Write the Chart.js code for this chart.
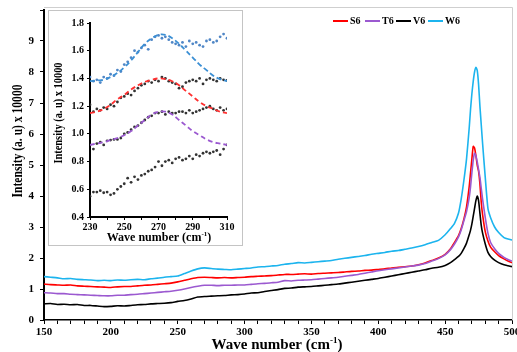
<!DOCTYPE html>
<html>
<head>
<meta charset="utf-8">
<script src="https://cdn.jsdelivr.net/npm/chart.js@4.4.0/dist/chart.umd.min.js"></script>
<style>
  body { margin: 0; background: #fff; }
  #wrap { position: relative; width: 517px; height: 352px; }
  #inset { position: absolute; left: 48px; top: 10px; width: 195px; height: 236px; border: 1px solid #c4c4c4; background: #fff; box-sizing: border-box; }
</style>
</head>
<body>
<div id="wrap">
  <canvas id="main" width="517" height="352"></canvas>
  <div id="inset"><canvas id="small" width="193" height="234"></canvas></div>
</div>
<script>
// main spectra (wave number, intensity x 10000)
const waveNo = [150,155,160,165,170,175,180,185,190,195,200,205,210,215,220,225,230,235,240,245,250,255,260,265,270,275,280,285,290,295,300,305,310,315,320,325,330,335,340,345,350,355,360,365,370,375,380,385,390,395,400,405,410,415,420,425,430,435,440,
  445,450,454,457,460,462,464,466,468,469,470,471,472,473,474,475,476,477,478,480,482,484,487,490,494,497,500];
const s6 = [1.16,1.14,1.13,1.12,1.13,1.10,1.09,1.08,1.07,1.06,1.05,1.07,1.08,1.08,1.10,1.12,1.13,1.15,1.17,1.19,1.23,1.28,1.33,1.37,1.38,1.37,1.36,1.37,1.36,1.37,1.38,1.40,1.41,1.42,1.43,1.45,1.47,1.47,1.48,1.49,1.48,1.50,1.51,1.52,1.53,1.55,1.57,1.58,1.60,1.61,1.63,1.65,1.68,1.70,1.72,1.74,1.78,1.84,1.92,
  2.00,2.12,2.30,2.50,2.72,2.95,3.25,3.65,4.30,4.75,5.20,5.60,5.55,5.30,5.00,4.80,4.40,3.80,3.40,2.85,2.55,2.35,2.20,2.08,1.97,1.90,1.85];
const t6 = [0.88,0.87,0.85,0.85,0.83,0.82,0.81,0.80,0.79,0.78,0.78,0.80,0.80,0.82,0.83,0.85,0.87,0.89,0.91,0.93,0.96,1.00,1.05,1.09,1.12,1.12,1.11,1.12,1.12,1.13,1.13,1.15,1.17,1.18,1.20,1.22,1.27,1.26,1.28,1.29,1.30,1.32,1.34,1.36,1.38,1.41,1.44,1.47,1.51,1.55,1.59,1.62,1.65,1.68,1.71,1.74,1.77,1.82,1.90,
  1.98,2.10,2.27,2.45,2.68,2.90,3.20,3.50,3.95,4.30,4.75,5.15,5.38,5.30,5.10,4.85,4.60,4.25,3.90,3.30,2.80,2.50,2.30,2.15,2.02,1.95,1.90];
const v6 = [0.52,0.53,0.50,0.51,0.49,0.50,0.47,0.47,0.45,0.43,0.44,0.46,0.45,0.47,0.49,0.50,0.52,0.53,0.54,0.56,0.60,0.63,0.68,0.74,0.76,0.77,0.78,0.79,0.81,0.82,0.84,0.87,0.88,0.92,0.95,0.98,1.02,1.03,1.06,1.07,1.08,1.10,1.12,1.14,1.16,1.19,1.22,1.25,1.28,1.31,1.34,1.38,1.42,1.46,1.50,1.54,1.58,1.62,1.67,
  1.70,1.76,1.85,1.95,2.05,2.15,2.30,2.48,2.75,2.90,3.10,3.35,3.60,3.85,4.00,3.85,3.45,3.05,2.80,2.45,2.18,2.05,1.93,1.85,1.78,1.75,1.72];
const w6 = [1.40,1.38,1.36,1.33,1.34,1.31,1.30,1.29,1.27,1.28,1.27,1.29,1.28,1.30,1.31,1.30,1.33,1.35,1.38,1.40,1.42,1.50,1.58,1.65,1.68,1.66,1.64,1.63,1.62,1.64,1.66,1.68,1.71,1.72,1.74,1.76,1.80,1.82,1.85,1.84,1.86,1.88,1.90,1.92,1.96,1.99,2.02,2.05,2.08,2.12,2.15,2.18,2.22,2.24,2.28,2.32,2.37,2.43,2.50,
  2.57,2.75,2.95,3.12,3.45,3.90,4.50,5.20,6.20,6.80,7.30,7.70,8.00,8.15,8.05,7.60,6.90,6.30,5.70,4.60,3.60,3.30,3.00,2.82,2.66,2.61,2.58];

// inset: measured points (every 2 cm-1) and fitted peaks (every 4 cm-1)
const insetX = [230,232,234,236,238,240,242,244,246,248,250,252,254,256,258,260,262,264,266,268,270,272,274,276,278,280,282,284,286,288,290,292,294,296,298,300,302,304,306,308,310];
const w6Pts = [1.41,1.38,1.39,1.37,1.41,1.40,1.43,1.42,1.46,1.45,1.50,1.52,1.55,1.60,1.59,1.62,1.64,1.61,1.68,1.70,1.71,1.69,1.70,1.68,1.66,1.65,1.64,1.66,1.63,1.67,1.65,1.66,1.64,1.63,1.67,1.68,1.66,1.67,1.70,1.72,1.69];
const s6Pts = [1.21,1.16,1.18,1.17,1.19,1.18,1.21,1.20,1.23,1.26,1.27,1.29,1.28,1.31,1.33,1.35,1.36,1.38,1.37,1.39,1.38,1.41,1.40,1.38,1.37,1.36,1.33,1.34,1.37,1.38,1.39,1.38,1.40,1.36,1.39,1.40,1.39,1.38,1.40,1.39,1.385];
const t6Pts = [0.92,0.89,0.93,0.94,0.92,0.95,0.955,0.96,0.96,0.97,1.00,1.01,1.03,1.05,1.06,1.08,1.10,1.12,1.13,1.15,1.15,1.16,1.14,1.16,1.15,1.15,1.16,1.16,1.15,1.17,1.15,1.16,1.17,1.18,1.19,1.20,1.18,1.17,1.19,1.17,1.18];
const v6Pts = [0.55,0.58,0.58,0.59,0.575,0.58,0.56,0.57,0.60,0.62,0.64,0.68,0.65,0.69,0.67,0.70,0.71,0.73,0.74,0.76,0.80,0.77,0.80,0.81,0.79,0.82,0.83,0.81,0.82,0.84,0.82,0.85,0.84,0.86,0.87,0.86,0.87,0.88,0.85,0.89,0.92];
const fitX = [230,234,238,242,246,250,254,258,262,266,270,274,278,282,286,290,294,298,302,306,310];
const w6Fit = [1.38,1.385,1.39,1.41,1.44,1.48,1.53,1.59,1.65,1.69,1.715,1.715,1.69,1.65,1.60,1.55,1.50,1.46,1.42,1.395,1.38];
const s6Fit = [1.15,1.16,1.18,1.21,1.25,1.28,1.32,1.35,1.375,1.39,1.40,1.395,1.38,1.35,1.31,1.27,1.23,1.20,1.18,1.16,1.15];
const t6Fit = [0.92,0.93,0.94,0.955,0.97,0.99,1.02,1.06,1.10,1.14,1.16,1.16,1.14,1.10,1.06,1.02,0.99,0.96,0.94,0.93,0.92];

const serif = '"Liberation Serif", "Times New Roman", serif';
const pairs = (xs, ys) => xs.map((x, i) => ({ x: x, y: ys[i] }));

// draws "Wave number (cm-1)" with the -1 raised
function waveTitle(ctx, cx, cy, size) {
  const a = 'Wave number (cm', b = '-1', c = ')';
  ctx.font = 'bold ' + size + 'px ' + serif;
  const wa = ctx.measureText(a).width, wc = ctx.measureText(c).width;
  ctx.font = 'bold ' + Math.round(size * 0.6) + 'px ' + serif;
  const wb = ctx.measureText(b).width;
  let x = cx - (wa + wb + wc) / 2;
  ctx.textAlign = 'left';
  ctx.textBaseline = 'middle';
  ctx.fillStyle = '#000';
  ctx.font = 'bold ' + size + 'px ' + serif;
  ctx.fillText(a, x, cy);
  x += wa;
  ctx.font = 'bold ' + Math.round(size * 0.6) + 'px ' + serif;
  ctx.fillText(b, x, cy - size * 0.3);
  x += wb;
  ctx.font = 'bold ' + size + 'px ' + serif;
  ctx.fillText(c, x, cy);
}

// rotated, squeezed y title
function yTitle(ctx, cx, cy, size, len) {
  const txt = 'Intensity (a. u) x 10000';
  ctx.save();
  ctx.font = 'bold ' + size + 'px ' + serif;
  const w = ctx.measureText(txt).width;
  ctx.translate(cx, cy);
  ctx.rotate(-Math.PI / 2);
  ctx.scale(len / w, 1);
  ctx.textAlign = 'center';
  ctx.textBaseline = 'middle';
  ctx.fillStyle = '#000';
  ctx.fillText(txt, 0, 0);
  ctx.restore();
}

const legendItems = [
  { label: 'S6', color: '#ff0000', x: 333 },
  { label: 'T6', color: '#9b59d0', x: 365 },
  { label: 'V6', color: '#000000', x: 396 },
  { label: 'W6', color: '#1cb4ee', x: 428 }
];

const mainDecor = {
  id: 'mainDecor',
  afterDraw(chart) {
    const ctx = chart.ctx, a = chart.chartArea;
    ctx.save();
    ctx.strokeStyle = '#cfcfcf';
    ctx.lineWidth = 1;
    ctx.beginPath();
    ctx.moveTo(a.left, a.top - 2.5);
    ctx.lineTo(a.right + 0.5, a.top - 2.5);
    ctx.lineTo(a.right + 0.5, a.bottom);
    ctx.stroke();
    legendItems.forEach(it => {
      ctx.strokeStyle = it.color;
      ctx.lineWidth = 2;
      ctx.beginPath();
      ctx.moveTo(it.x, 21);
      ctx.lineTo(it.x + 15, 21);
      ctx.stroke();
      ctx.font = 'bold 10px ' + serif;
      ctx.fillStyle = '#000';
      ctx.textAlign = 'left';
      ctx.textBaseline = 'middle';
      ctx.fillText(it.label, it.x + 17, 21.5);
    });
    waveTitle(ctx, 277, 345, 15);
    yTitle(ctx, 18, 141, 15, 113);
    ctx.restore();
  }
};

const line = (label, ys, color) => ({
  label: label, data: pairs(waveNo, ys), borderColor: color, borderWidth: 1.6,
  pointRadius: 0, tension: 0.2, fill: false
});

new Chart(document.getElementById('main'), {
  type: 'line',
  data: {
    datasets: [
      line('V6', v6, '#000000'),
      line('T6', t6, '#9b59d0'),
      line('S6', s6, '#ff0000'),
      line('W6', w6, '#1cb4ee')
    ]
  },
  options: {
    responsive: false,
    animation: false,
    layout: { padding: { left: 0, right: 5, top: 10, bottom: 0 } },
    plugins: { legend: { display: false }, tooltip: { enabled: false } },
    scales: {
      x: {
        type: 'linear', min: 150, max: 500,
        afterFit(s) { s.height = 32; s.paddingLeft = 0; s.paddingRight = 0; },
        grid: { drawOnChartArea: false, tickLength: 4, color: '#000' },
        border: { color: '#000', width: 1.5 },
        ticks: {
          stepSize: 10, autoSkip: false, maxRotation: 0, padding: 2,
          color: '#000', font: { family: serif, size: 11, weight: 'bold' },
          callback: v => (v % 50 === 0 ? v : '')
        }
      },
      y: {
        min: 0, max: 10,
        afterFit(s) { s.width = 44; s.paddingTop = 0; s.paddingBottom = 0; },
        grid: { drawOnChartArea: false, tickLength: 4, color: '#000' },
        border: { color: '#000', width: 2 },
        ticks: {
          stepSize: 1, padding: 6,
          color: '#000', font: { family: serif, size: 11, weight: 'bold' },
          callback: v => (v < 10 ? v : '')
        }
      }
    }
  },
  plugins: [mainDecor]
});

const insetDecor = {
  id: 'insetDecor',
  afterDraw(chart) {
    const ctx = chart.ctx;
    ctx.save();
    waveTitle(ctx, 110, 227, 12);
    yTitle(ctx, 10, 102, 12, 101);
    ctx.restore();
  }
};

const dots = (ys, color) => ({
  type: 'scatter', data: pairs(insetX, ys), backgroundColor: color, borderColor: color,
  pointRadius: 1.4, borderWidth: 0, showLine: false, order: 2
});
const fit = (ys, color) => ({
  type: 'line', data: pairs(fitX, ys), borderColor: color, borderWidth: 1.8,
  borderDash: [5, 3], pointRadius: 0, tension: 0.4, fill: false, order: 1
});

new Chart(document.getElementById('small'), {
  type: 'scatter',
  data: {
    datasets: [
      dots(w6Pts, '#4f86c6'),
      dots(s6Pts, '#333333'),
      dots(t6Pts, '#333333'),
      dots(v6Pts, '#333333'),
      fit(w6Fit, '#3b8fd4'),
      fit(s6Fit, '#ff3030'),
      fit(t6Fit, '#9b59d0')
    ]
  },
  options: {
    responsive: false,
    animation: false,
    layout: { padding: { left: 0, right: 15, top: 12, bottom: 0 } },
    plugins: { legend: { display: false }, tooltip: { enabled: false } },
    scales: {
      x: {
        type: 'linear', min: 230, max: 310,
        afterFit(s) { s.height = 28; s.paddingLeft = 0; s.paddingRight = 0; },
        grid: { drawOnChartArea: false, tickLength: 3, color: '#000' },
        border: { color: '#000', width: 2 },
        ticks: {
          stepSize: 10, autoSkip: false, maxRotation: 0, padding: 1,
          color: '#000', font: { family: serif, size: 10, weight: 'bold' },
          callback: v => ((v - 230) % 20 === 0 ? v : '')
        }
      },
      y: {
        min: 0.4, max: 1.8,
        afterFit(s) { s.width = 41; s.paddingTop = 0; s.paddingBottom = 0; },
        grid: { drawOnChartArea: false, tickLength: 3, color: '#000' },
        border: { color: '#000', width: 2 },
        ticks: {
          stepSize: 0.2, padding: 3,
          color: '#000', font: { family: serif, size: 10, weight: 'bold' },
          callback: v => v.toFixed(1)
        }
      }
    }
  },
  plugins: [insetDecor]
});
</script>
</body>
</html>
